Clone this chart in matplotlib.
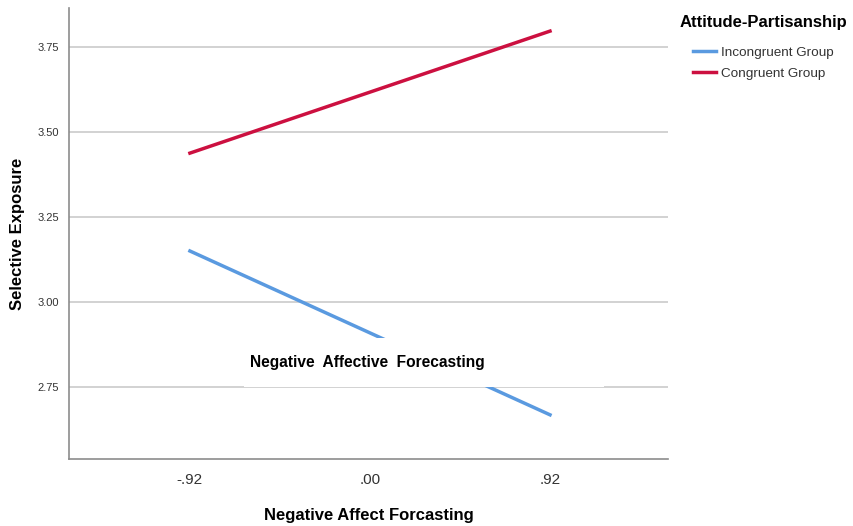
import matplotlib.pyplot as plt

# data
x_vals = [-0.92, 0.92]
incongruent = [3.15, 2.668]
congruent = [3.438, 3.797]
x_ticks = [-0.92, 0.0, 0.92]
x_ticklabels = ['-.92', '.00', '.92']
y_ticks = [2.75, 3.00, 3.25, 3.50, 3.75]
y_ticklabels = ['2.75', '3.00', '3.25', '3.50', '3.75']

plt.rcParams['font.family'] = ['Liberation Sans', 'DejaVu Sans']

fig = plt.figure(figsize=(8.54, 5.26), dpi=100)
ax = fig.add_axes([69/854, 1-459/526, (668-69)/854, (459-8)/526])

blue = '#5a9ae0'
red = '#cc1040'

for y in y_ticks:
    ax.axhline(y, color='#cfcfcf', lw=1.3, zorder=1)

ax.plot(x_vals, incongruent, color=blue, lw=2.5, label='Incongruent Group', zorder=2)
ax.plot(x_vals, congruent, color=red, lw=2.5, label='Congruent Group', zorder=2)

ax.set_xlim(-1.538, 1.523)
ax.set_ylim(2.538, 3.865)

ax.set_xticks(x_ticks)
ax.set_xticklabels(x_ticklabels, fontsize=11, color='#333333')
ax.set_yticks(y_ticks)
ax.set_yticklabels(y_ticklabels, fontsize=8, color='#333333')
ax.tick_params(length=0, pad=10)
ax.tick_params(axis='y', pad=7)

for s in ['top', 'right']:
    ax.spines[s].set_visible(False)
for s in ['left', 'bottom']:
    ax.spines[s].set_color('#8c8c8c')
    ax.spines[s].set_linewidth(1.2)

ax.set_xlabel('Negative Affect Forcasting', fontsize=12, fontweight='bold', labelpad=15)
ax.set_ylabel('Selective Exposure', fontsize=12, fontweight='bold', labelpad=9)

# white box with overlaid label
fig.patches.append(plt.Rectangle((244/854, 1-387/526), 360/854, 49/526,
                                 transform=fig.transFigure, facecolor='white',
                                 edgecolor='none', zorder=5))
fig.text(250/854, 1-362/526, 'Negative  Affective  Forecasting', fontsize=11.2,
         fontstretch='condensed', fontweight='bold', va='center', ha='left', zorder=6)

# legend
fig.text(680/854, 1-22/526, 'Attitude-Partisanship', fontsize=12, fontweight='bold',
         va='center', ha='left')
leg = ax.legend(loc='upper left', bbox_to_anchor=(690/854, 1-44/526),
                bbox_transform=fig.transFigure, frameon=False,
                fontsize=9.7, handlelength=1.75, handletextpad=0.35,
                labelspacing=0.62, borderaxespad=0, borderpad=0.2)
for t in leg.get_texts():
    t.set_color('#333333')

fig.savefig('out.png', dpi=100)
